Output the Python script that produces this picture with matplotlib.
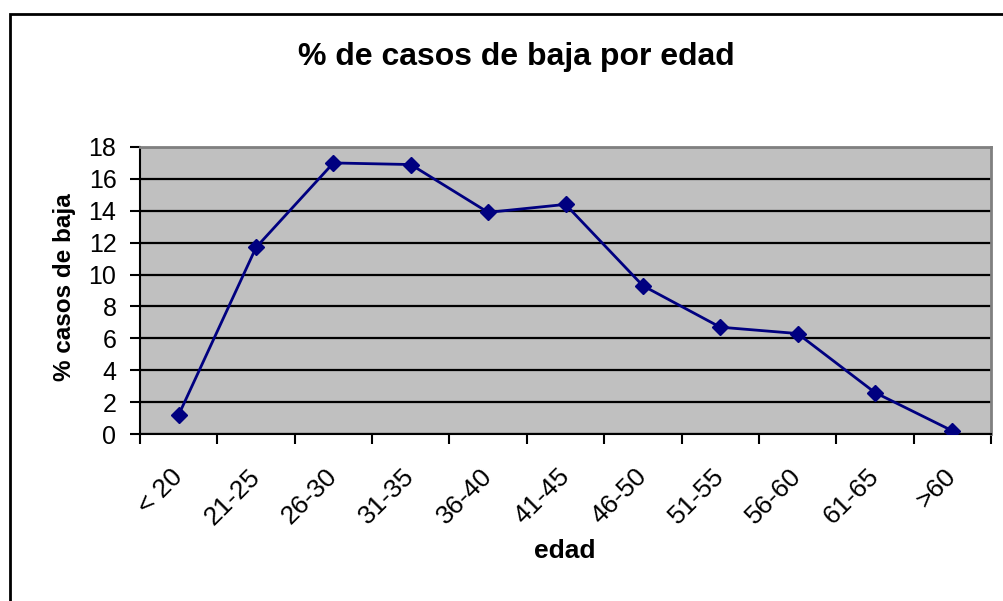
import numpy as np
import matplotlib.pyplot as plt
from matplotlib.patches import Rectangle

# datos
edades = ['< 20', '21-25', '26-30', '31-35', '36-40', '41-45',
          '46-50', '51-55', '56-60', '61-65', '>60']
porcentaje = [1.2, 11.7, 17.0, 16.9, 13.9, 14.4, 9.3, 6.7, 6.3, 2.6, 0.2]
yticks = [0, 2, 4, 6, 8, 10, 12, 14, 16, 18]

plt.rcParams['font.family'] = ['Liberation Sans', 'DejaVu Sans']

fig = plt.figure(figsize=(10.04, 6.01), dpi=100)
fig.patch.set_facecolor('white')

# marco exterior (se sale por la derecha y por abajo)
fig.patches.append(Rectangle((10 / 1004, -0.1), 1.2, 1 - 14 / 601 + 0.1,
                             transform=fig.transFigure, fill=False,
                             edgecolor='black', linewidth=2))

ax = fig.add_axes([140 / 1004, 1 - 434 / 601, 851 / 1004, 287 / 601])
ax.set_facecolor('#C0C0C0')

x = np.arange(len(edades))
ax.plot(x, porcentaje, color='#000080', linewidth=2, marker='D',
        markersize=8, zorder=3)

ax.set_xlim(-0.5, len(edades) - 0.5)
ax.set_ylim(0, 18)
ax.set_yticks(yticks)
ax.grid(axis='y', color='black', linewidth=1.6)
ax.set_axisbelow(True)

ax.set_xticks(x)
ax.set_xticklabels(edades, rotation=45, ha='right', va='center',
                   rotation_mode='anchor', fontsize=19)
ax.set_xticks(np.arange(-0.5, len(edades)), minor=True)
ax.tick_params(axis='x', which='major', length=0, pad=28)
ax.tick_params(axis='x', which='minor', length=7, width=1.5, color='black')
ax.tick_params(axis='y', length=7, width=1.5, labelsize=18, pad=10)

for s in ['top', 'right']:
    ax.spines[s].set_color('#808080')
    ax.spines[s].set_linewidth(2)
for s in ['left', 'bottom']:
    ax.spines[s].set_color('black')
    ax.spines[s].set_linewidth(1.5)

fig.text(65 / 1004, 1 - 287 / 601, '% casos de baja', fontsize=17.5,
         fontweight='bold', rotation=90, ha='center', va='center')
fig.text(565 / 1004, 1 - 551 / 601, 'edad', fontsize=19,
         fontweight='bold', ha='center', va='center')
fig.text(516 / 1004, 1 - 57 / 601, '% de casos de baja por edad',
         fontsize=23, fontweight='bold', ha='center', va='center')

plt.savefig('out.png', dpi=100)
